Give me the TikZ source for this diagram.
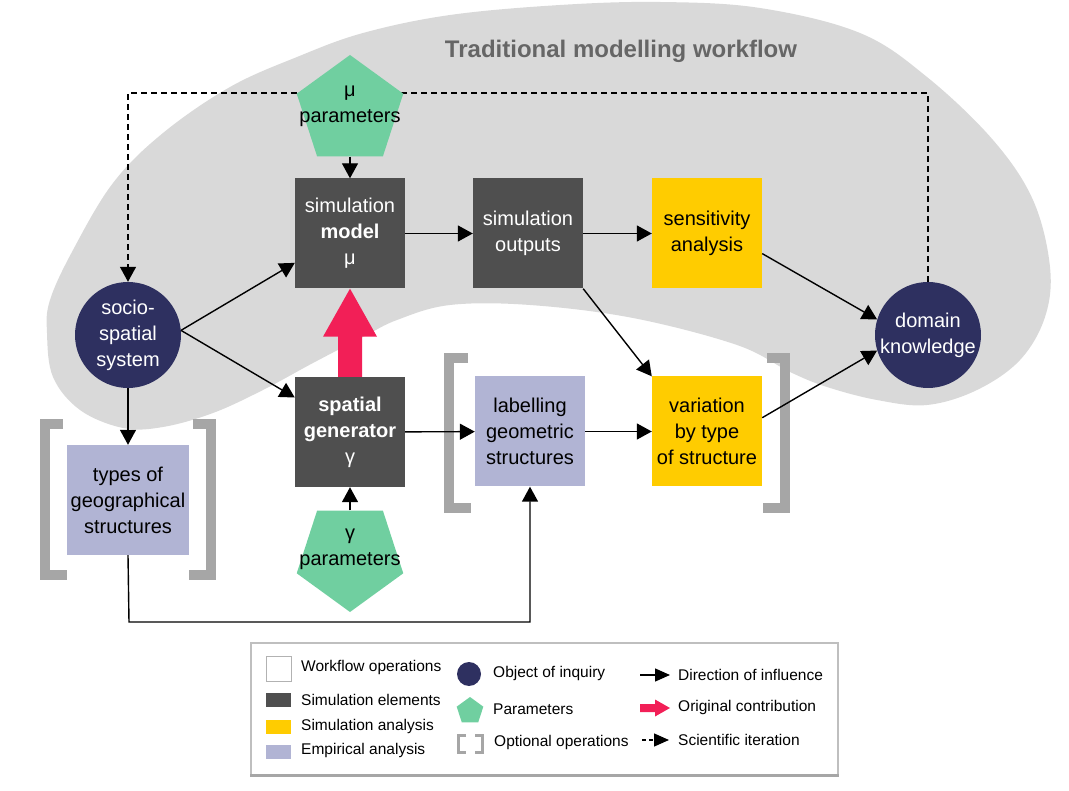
\documentclass[tikz,border=0pt]{standalone}
\usepackage{fontspec}
\setmainfont{Liberation Sans}
\usetikzlibrary{arrows.meta,shapes.geometric,calc}
\definecolor{simgray}{RGB}{79,79,79}
\definecolor{navy}{RGB}{46,48,96}
\definecolor{simyellow}{RGB}{255,204,0}
\definecolor{lavender}{RGB}{177,180,212}
\definecolor{paramgreen}{RGB}{112,207,160}
\definecolor{contribred}{RGB}{242,31,87}
\definecolor{blobgray}{RGB}{217,217,217}
\definecolor{brackgray}{RGB}{166,166,166}
\definecolor{titlegray}{RGB}{102,102,102}
\begin{document}
\begin{tikzpicture}[x=1pt,y=-1pt,
  mainfont/.style={font=\fontsize{20}{26}\selectfont},
  box/.style={rectangle, minimum width=110pt, minimum height=110pt, inner sep=0pt, align=center, mainfont},
  simbox/.style={box, fill=simgray, text=white},
  anabox/.style={box, fill=simyellow, text=black},
  empbox/.style={box, fill=lavender, text=black},
  inquiry/.style={circle, fill=navy, text=white, minimum size=106pt, inner sep=0pt, align=center, mainfont},
  param/.style={regular polygon, regular polygon sides=5, fill=paramgreen, minimum size=112pt, inner sep=0pt},
  ptext/.style={align=center, mainfont, inner sep=0pt, text=black},
  arr/.style={line width=1.4pt, -{Triangle[length=15pt,width=16pt]}},
  iterarr/.style={line width=1.4pt, dash pattern=on 6pt off 4pt, -{Triangle[length=15pt,width=16pt]}},
  brack/.style={draw=brackgray, line width=10pt, line join=miter},
  lgtext/.style={anchor=west, font=\fontsize{15.5}{18}\selectfont, inner sep=0pt},
  lgarr/.style={line width=1.4pt, -{Triangle[length=15pt,width=13pt]}},
]
\useasboundingbox (0,0) rectangle (1069,791);

% background workflow area
\fill[blobgray] plot[smooth cycle, tension=0.6] coordinates {
 (363,33) (450,15) (560,5) (660,2) (760,8) (860,33) (927,77) (993,140)
 (1033,200) (1050,267) (1045,317) (1020,360) (977,390) (927,405) (877,400)
 (827,387) (790,372) (737,345) (633,318) (530,305) (450,305) (397,320)
 (363,337) (313,363) (263,390) (213,413) (163,427) (123,428) (80,410)
 (53,377) (47,333) (50,300) (73,250) (113,183) (163,133) (230,87) (297,57)};

\node[font=\fontsize{24}{28}\selectfont\bfseries, text=titlegray, inner sep=0pt] (title) at (621,51) {Traditional modelling workflow};

% optional-operation brackets
\draw[brack] (63,424) -- (45,424) -- (45,575) -- (67,575);
\draw[brack] (193,424) -- (211,424) -- (211,575) -- (189,575);
\draw[brack] (468,358) -- (449,358) -- (449,508) -- (471,508);
\draw[brack] (767,358) -- (785,358) -- (785,508) -- (763,508);

% nodes
\node[inquiry] (socio) at (128,335) {socio-\\spatial\\system};
\node[inquiry] (dom) at (928,335) {domain\\knowledge};
\coordinate (dr) at (928,93);
\coordinate (dl) at (128,93);
\draw[iterarr] (dom.north) -- (dr) -- (dl) -- (socio.north);

\node[param] (mup) at (350,111) {};
\node[ptext] (muptxt) at (350,106) {μ\\parameters};
\node[param, shape border rotate=180] (gap) at (350,556) {};
\node[ptext] (gaptxt) at (350,549) {γ\\parameters};

\node[simbox] (model) at (350,233.5) {simulation\\\textbf{model}\\μ};
\node[simbox] (outputs) at (528,233.5) {simulation\\outputs};
\node[anabox] (sens) at (707,233.5) {sensitivity\\analysis};
\node[simbox] (spatial) at (350,432) {\textbf{spatial}\\\textbf{generator}\\γ};
\node[empbox] (lab) at (530,431.5) {labelling\\geometric\\structures};
\node[anabox] (var) at (707,431.5) {variation\\by type\\of structure};
\node[empbox, minimum width=122pt] (types) at (128,500) {types of\\geographical\\structures};

% original contribution arrow
\fill[contribred] ($(spatial.north)+(-12,0)$) -- ($(model.south)+(-12,48)$) -- ($(model.south)+(-27,48)$)
  -- (model.south) -- ($(model.south)+(27,48)$) -- ($(model.south)+(12,48)$) -- ($(spatial.north)+(12,0)$) -- cycle;

% influence connectors
\draw[arr] (mup.south) -- (model.north);
\draw[arr] (model) -- (outputs);
\draw[arr] (outputs) -- (sens);
\draw[arr] (sens.-20) -- (dom.163);
\draw[arr] (outputs.south east) -- (var.north west);
\draw[arr] (var.14) -- (dom.197);
\draw[arr] (socio.5) -- (model.208);
\draw[arr] (socio.5) -- (spatial.148);
\draw[arr] (socio.south) -- (types.north);
\draw[arr] (spatial) -- (lab);
\draw[arr] (lab) -- (var);
\draw[arr] (gap.north) -- (spatial.south);
\coordinate (tb) at (129,622);
\draw[arr] (types.south) -- (tb) -| (lab.south);

% legend
\node[draw=black!25, line width=1.5pt, minimum width=587pt, minimum height=132pt, inner sep=0pt] (legend) at (544.5,709) {};
\draw[black!35, line width=3pt] (legend.south west) -- (legend.south east);
\node[draw=black!30, fill=white, minimum width=25pt, minimum height=25pt, inner sep=0pt] (lgw) at (278.5,668.5) {};
\node[lgtext] (lgwt) at (301,667) {Workflow operations};
\node[fill=simgray, minimum width=25pt, minimum height=14pt, inner sep=0pt] (lgs) at (278.5,700) {};
\node[lgtext] (lgst) at (301,700) {Simulation elements};
\node[fill=simyellow, minimum width=25pt, minimum height=14pt, inner sep=0pt] (lga) at (278.5,727) {};
\node[lgtext] (lgat) at (301,726) {Simulation analysis};
\node[fill=lavender, minimum width=25pt, minimum height=14pt, inner sep=0pt] (lge) at (278.5,752) {};
\node[lgtext] (lget) at (301,750) {Empirical analysis};
\node[circle, fill=navy, minimum size=24pt, inner sep=0pt] (lgo) at (469,674) {};
\node[lgtext] (lgot) at (493,673) {Object of inquiry};
\node[regular polygon, regular polygon sides=5, fill=paramgreen, minimum size=28pt, inner sep=0pt] (lgp) at (470,711) {};
\node[lgtext] (lgpt) at (493,709) {Parameters};
\draw[draw=brackgray, line width=3pt] (466,735.5) -- (458.5,735.5) -- (458.5,752.5) -- (466,752.5);
\draw[draw=brackgray, line width=3pt] (475,735.5) -- (482.5,735.5) -- (482.5,752.5) -- (475,752.5);
\node[lgtext] (lgbt) at (494,742) {Optional operations};
\coordinate (la1) at (640,675); \coordinate (la2) at (670,675);
\draw[lgarr] (la1) -- (la2);
\node[lgtext] (lgdt) at (678,675) {Direction of influence};
\coordinate (lr1) at (640,708); \coordinate (lr2) at (670,708);
\fill[contribred] ($(lr1)+(0,-4)$) -- ($(lr2)+(-15,-4)$) -- ($(lr2)+(-15,-8.5)$) -- (lr2) -- ($(lr2)+(-15,8.5)$) -- ($(lr2)+(-15,4)$) -- ($(lr1)+(0,4)$) -- cycle;
\node[lgtext] (lgrt) at (678,707) {Original contribution};
\coordinate (ld1) at (642,740); \coordinate (ld2) at (669,740);
\draw[lgarr, dash pattern=on 4pt off 3pt] (ld1) -- (ld2);
\node[lgtext] (lgit) at (678,740) {Scientific iteration};
\end{tikzpicture}
\end{document}
